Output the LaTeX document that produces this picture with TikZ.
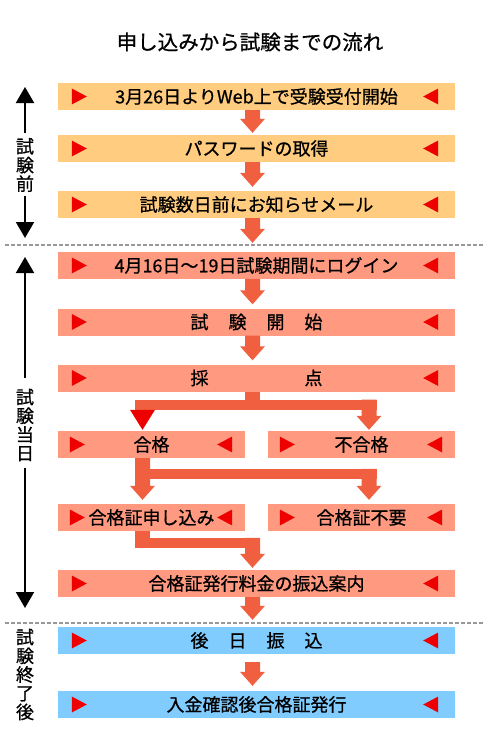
\documentclass[tikz,border=0pt]{standalone}
\usepackage{fontspec}
\setmainfont[FakeBold=0.8]{Noto Sans CJK JP}
\usetikzlibrary{calc,arrows.meta}
\definecolor{boxor}{HTML}{FFCC80}
\definecolor{boxsa}{HTML}{FF9980}
\definecolor{boxbl}{HTML}{80CCFF}
\definecolor{arrcol}{HTML}{F06040}
\definecolor{trired}{HTML}{EE0000}
\definecolor{dashgray}{HTML}{999999}
\tikzset{
  fbox/.style={rectangle, inner sep=0pt, minimum width=397pt, minimum height=27pt,
    font=\fontsize{18}{20}\selectfont},
  hbox/.style={fbox, minimum width=187pt},
  vlab/.style={align=center, inner sep=0pt, font=\fontsize{18}{18.7}\selectfont},
  tlarrow/.style={line width=2pt, -{Triangle[width=18pt,length=16pt]}},
  sepline/.style={dashgray, line width=1.5pt, dash pattern=on 3.5pt off 2.5pt}
}
% block arrow: start point (y used), tip point (x and y used)
\newcommand\flowarrow[3][arrcol]{%
  \path #2 coordinate (S) #3 coordinate (T);
  \fill[#1] let \p1=(S), \p2=(T) in
    (\x2-7.5pt,\y1) -- (\x2-7.5pt,\y2+14pt) -- (\x2-12.5pt,\y2+14pt) -- (\x2,\y2)
    -- (\x2+12.5pt,\y2+14pt) -- (\x2+7.5pt,\y2+14pt) -- (\x2+7.5pt,\y1) -- cycle;}
% red side triangles of a box
\newcommand\tris[3]{%
  \fill[trired] ($(#1.west)+(#2,-8)$) -- ($(#1.west)+(#2,8)$) -- ($(#1.west)+(#2+15,0)$) -- cycle;
  \fill[trired] ($(#1.east)+(-#3,-8)$) -- ($(#1.east)+(-#3,8)$) -- ($(#1.east)+(-#3-15,0)$) -- cycle;}
\begin{document}
\begin{tikzpicture}[x=1pt,y=-1pt]
\useasboundingbox (0,0) rectangle (484,750);
\fill[white] (0,0) rectangle (484,750);

\node (title) at (250,42) {\fontsize{20.5}{24}\selectfont 申し込みから試験までの流れ};

% boxes
\node[fbox, fill=boxor] (b1) at (256.5,96.5) {3月26日よりWeb上で受験受付開始};
\node[fbox, fill=boxor] (b2) at (256.5,148.5) {パスワードの取得};
\node[fbox, fill=boxor] (b3) at (256.5,204.5) {試験数日前にお知らせメール};
\node[fbox, fill=boxsa] (b4) at (256.5,265.5) {4月16日～19日試験期間にログイン};
\node[fbox, fill=boxsa] (b5) at (256.5,322) {試\hspace{20pt}験\hspace{20pt}開\hspace{20pt}始};
\node[fbox, fill=boxsa] (b6) at (256.5,378) {採\hspace{96pt}点};
\node[hbox, fill=boxsa] (p) at (151.5,444.5) {合格};
\node[hbox, fill=boxsa] (f) at (361.5,444.5) {不合格};
\node[hbox, fill=boxsa] (q) at (151.5,517.5) {合格証申し込み};
\node[hbox, fill=boxsa] (r) at (361.5,517.5) {合格証不要};
\node[fbox, fill=boxsa] (b9) at (256.5,583.5) {合格証発行料金の振込案内};
\node[fbox, fill=boxbl] (b10) at (256.5,640.5) {後\hspace{20pt}日\hspace{20pt}振\hspace{20pt}込};
\node[fbox, fill=boxbl] (b11) at (256.5,704.5) {入金確認後合格証発行};

% side triangles
\tris{b1}{14}{17}
\tris{b2}{14}{17}
\tris{b3}{14}{17}
\tris{b4}{14}{17}
\tris{b5}{14}{17}
\tris{b6}{14}{17}
\tris{p}{12}{13}
\tris{f}{12}{13}
\tris{q}{12}{13}
\tris{r}{12}{13}
\tris{b9}{14}{17}
\tris{b10}{14}{17}
\tris{b11}{14}{17}

% straight connectors
\flowarrow{(b1.south)}{($(b2.north)+(-4,-2)$)}
\flowarrow{(b2.south)}{($(b3.north)+(-4,-4)$)}
\flowarrow{(b3.south)}{($(b4.north)+(-4,-9)$)}
\flowarrow{(b4.south)}{($(b5.north)+(-4,-4)$)}
\flowarrow{(b5.south)}{($(b6.north)+(-4,-4)$)}
\flowarrow{(b9.south)}{($(b10.north)+(-4,-7)$)}
\flowarrow{($(b10.south)+(0,8)$)}{($(b11.north)+(-4,-5)$)}

% branch from b6 to p and f
\coordinate (j1) at ($(b6.south)+(-4,13)$);
\fill[arrcol] ($(b6.south)+(-11.5,0)$) rectangle ($(b6.south)+(3.5,9)$);
\fill[arrcol] ($(j1)+(-117.5,-5)$) rectangle ($(j1)+(124.5,5)$);
\fill[trired] ($(p.north)+(-21.5,-21)$) -- ($(p.north)+(3.5,-21)$) -- ($(p.north)+(-9,-1)$) -- cycle;
\flowarrow{($(j1)+(0,-5)$)}{($(f.north)+(7.5,-1)$)}

% branch from p to q and r
\flowarrow{(p.south)}{($(q.north)+(-9,-4)$)}
\fill[arrcol] ($(p.south)+(-16.5,11)$) rectangle ($(r.north)+(15.5,-25)$);
\flowarrow{($(r.north)+(7.5,-35)$)}{($(r.north)+(7.5,-4)$)}

% from q to b9
\fill[arrcol] ($(q.south)+(-16.5,0)$) rectangle ($(q.south)+(-1.5,17)$);
\fill[arrcol] ($(q.south)+(-16.5,7)$) rectangle ($(b9.north)+(3.5,-22)$);
\flowarrow{($(b9.north)+(-4,-32)$)}{($(b9.north)+(-4,-2)$)}

% separators
\draw[sepline] (5,245) -- (484,245);
\draw[sepline] (5,623) -- (484,623);

% side labels
\node[vlab] (L1) at (25,165) {試\\験\\前};
\node[vlab] (L2) at (25,425) {試\\験\\当\\日};
\node[vlab] (L3) at (25,674.5) {試\\験\\終\\了\\後};
\coordinate (t1a) at (25,87);
\coordinate (t1b) at (25,238);
\coordinate (t2a) at (25,257);
\coordinate (t2b) at (25,608);
\draw[tlarrow] ($(L1.north)+(0,-5)$) -- (t1a);
\draw[tlarrow] ($(L1.south)+(0,4)$) -- (t1b);
\draw[tlarrow] ($(L2.north)+(0,-11)$) -- (t2a);
\draw[tlarrow] ($(L2.south)+(0,7)$) -- (t2b);
\end{tikzpicture}
\end{document}
